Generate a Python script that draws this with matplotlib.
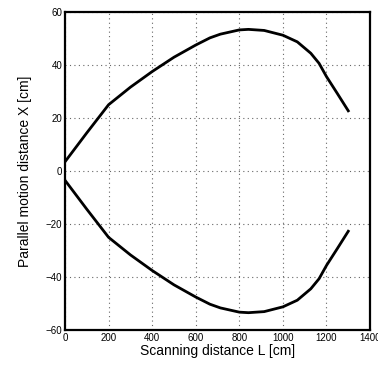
import matplotlib
matplotlib.use("Agg")
import matplotlib.pyplot as plt

# scanning distance L [cm] and parallel motion distance X [cm]
L = [0, 100, 200, 300, 400, 500, 600, 665, 713, 800, 842, 914, 1000, 1066, 1128, 1166, 1200, 1250, 1300]
X_upper = [3.5, 14.4, 25, 31.6, 37.5, 42.9, 47.5, 50.2, 51.6, 53.2, 53.4, 53.0, 51.2, 48.7, 44.4, 40.6, 35.6, 29.2, 22.7]
X_lower = [-3.5, -14.4, -25, -31.6, -37.5, -42.9, -47.5, -50.2, -51.6, -53.2, -53.4, -53.0, -51.2, -48.7, -44.4, -40.6, -35.6, -29.2, -22.7]

x_ticks = [0, 200, 400, 600, 800, 1000, 1200, 1400]
y_ticks = [-60, -40, -20, 0, 20, 40, 60]

plt.rcParams['font.family'] = ['Liberation Sans', 'DejaVu Sans']

fig = plt.figure(figsize=(3.78, 3.71), dpi=100)
ax = fig.add_axes([0.172, 0.110, 0.807, 0.858])

ax.plot(L, X_upper, color='black', lw=2, solid_joinstyle='round')
ax.plot(L, X_lower, color='black', lw=2, solid_joinstyle='round')

ax.set_xlim(0, 1400)
ax.set_ylim(-60, 60)
ax.set_xticks(x_ticks)
ax.set_yticks(y_ticks)
ax.tick_params(length=0, labelsize=7, pad=2)
ax.grid(True, linestyle=(0, (1, 3)), color='#666666', lw=0.8)
for s in ax.spines.values():
    s.set_linewidth(1.6)

ax.set_xlabel('Scanning distance L [cm]', fontsize=10, labelpad=1)
ax.set_ylabel('Parallel motion distance X [cm]', fontsize=10, labelpad=10)

fig.savefig('out.png', dpi=100)
